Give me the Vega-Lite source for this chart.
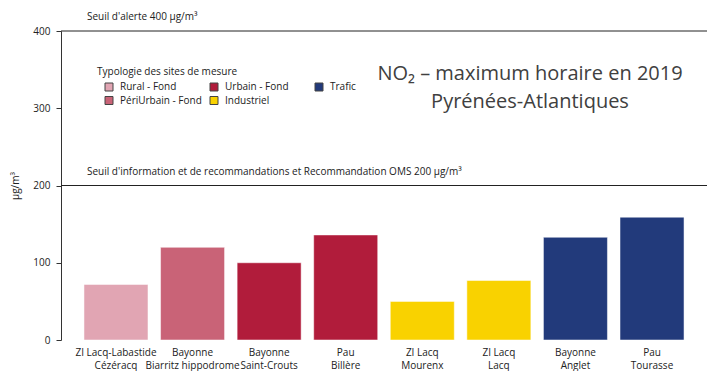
{
  "$schema": "https://vega.github.io/schema/vega-lite/v6.json",
  "width": 646,
  "height": 309,
  "autosize": {"type": "none"},
  "padding": {"left": 61, "top": 31, "right": 7, "bottom": 31},
  "config": {"font": "Open Sans", "view": {"stroke": null}},
  "title": {
    "text": ["NO₂ – maximum horaire en 2019", "Pyrénées-Atlantiques"],
    "fontSize": 20,
    "fontWeight": "normal",
    "color": "#404040",
    "anchor": "middle",
    "frame": "group",
    "dx": 146,
    "dy": 100,
    "offset": 0,
    "baseline": "top",
    "lineHeight": 28
  },
  "data": {
    "values": [
      {"site": "ZI Lacq-Labastide|Cézéracq", "type": "Rural - Fond", "value": 72},
      {"site": "Bayonne|Biarritz hippodrome", "type": "PériUrbain - Fond", "value": 120},
      {"site": "Bayonne|Saint-Crouts", "type": "Urbain - Fond", "value": 100},
      {"site": "Pau|Billère", "type": "Urbain - Fond", "value": 136},
      {"site": "ZI Lacq|Mourenx", "type": "Industriel", "value": 50},
      {"site": "ZI Lacq|Lacq", "type": "Industriel", "value": 77},
      {"site": "Bayonne|Anglet", "type": "Trafic", "value": 133},
      {"site": "Pau|Tourasse", "type": "Trafic", "value": 159}
    ]
  },
  "layer": [
    {
      "mark": {"type": "bar", "stroke": "white", "strokeWidth": 1, "strokeOpacity": 0.5},
      "encoding": {
        "x": {
          "field": "site",
          "type": "nominal",
          "sort": null,
          "scale": {"paddingInner": 0.164, "paddingOuter": 0.3},
          "axis": {
            "title": null,
            "labelExpr": "split(datum.label, '|')",
            "labelAngle": 0,
            "domain": false,
            "ticks": false,
            "labelFontSize": 10,
            "labelColor": "#222",
            "labelPadding": 7,
            "labelLineHeight": 13
          }
        },
        "y": {
          "field": "value",
          "type": "quantitative",
          "scale": {"domain": [0, 400], "nice": false},
          "axis": {
            "title": "µg/m³",
            "titleFontSize": 10,
            "titleFontWeight": "normal",
            "titleColor": "#222",
            "titlePadding": 12,
            "values": [0, 100, 200, 300, 400],
            "grid": false,
            "tickSize": 5,
            "tickColor": "#333",
            "domainColor": "#333",
            "labelFontSize": 10,
            "labelColor": "#222",
            "labelPadding": 6
          }
        },
        "color": {
          "field": "type",
          "type": "nominal",
          "scale": {
            "domain": ["Rural - Fond", "PériUrbain - Fond", "Urbain - Fond", "Industriel", "Trafic"],
            "range": ["#E1A5B3", "#C96377", "#B11C3B", "#F9D200", "#223A7B"]
          },
          "legend": {
            "orient": "none",
            "legendX": 36,
            "legendY": 36,
            "title": "Typologie des sites de mesure",
            "titleFontSize": 10,
            "titleFontWeight": "normal",
            "titleColor": "#222",
            "titlePadding": 5,
            "labelFontSize": 10,
            "labelColor": "#222",
            "columns": 3,
            "gridAlign": "all",
            "columnPadding": -2,
            "rowPadding": 1.5,
            "symbolType": "square",
            "symbolSize": 64,
            "symbolStrokeColor": "#444",
            "symbolStrokeWidth": 1,
            "symbolOffset": 7,
            "labelOffset": 6
          }
        }
      }
    },
    {
      "data": {"values": [{"y": 200}, {"y": 400}]},
      "mark": {"type": "rule", "color": "#222", "strokeWidth": 1},
      "encoding": {"y": {"field": "y", "type": "quantitative"}}
    },
    {
      "data": {
        "values": [
          {"y": 400, "label": "Seuil d'alerte 400 µg/m³"},
          {"y": 200, "label": "Seuil d'information et de recommandations et Recommandation OMS 200 µg/m³"}
        ]
      },
      "mark": {"type": "text", "align": "left", "baseline": "bottom", "dx": 3, "dy": -9, "fontSize": 10, "color": "#222"},
      "encoding": {
        "x": {"datum": "ZI Lacq-Labastide|Cézéracq", "type": "nominal", "bandPosition": 0},
        "y": {"field": "y", "type": "quantitative"},
        "text": {"field": "label"}
      }
    }
  ]
}
